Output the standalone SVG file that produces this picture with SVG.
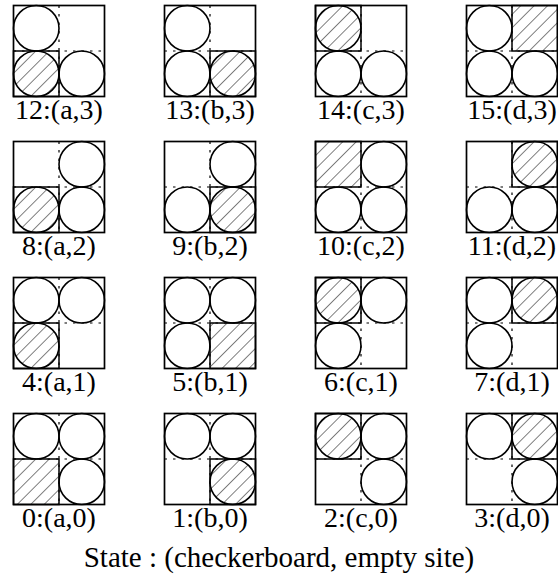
<svg xmlns="http://www.w3.org/2000/svg" xmlns:xlink="http://www.w3.org/1999/xlink" width="558" height="582" viewBox="0 0 558 582">
<defs>
<pattern id="hatch" patternUnits="userSpaceOnUse" width="9.5" height="9.5" patternTransform="rotate(45)">
<line x1="0" y1="0" x2="0" y2="9.5" stroke="#000" stroke-width="1"/>
</pattern>
<circle id="c" r="22.75" class="circ"/>
<path id="grid" d="M45.5,0 V91 M0,45.5 H91" class="dot"/>
</defs>
<style>
.box{fill:none;stroke:#000;stroke-width:1.7}
.sq{fill:none;stroke:#000;stroke-width:1.5}
.hsq{fill:url(#hatch);stroke:#000;stroke-width:1.5}
.circ{fill:none;stroke:#000;stroke-width:1.6}
.hc{fill:url(#hatch);stroke:#000;stroke-width:1.6}
.dot{fill:none;stroke:#000;stroke-width:1.2;stroke-dasharray:2.5 6}
.lbl{font-family:"Liberation Serif","Times New Roman",serif;font-size:28px;fill:#000;text-anchor:middle}
.cap{font-family:"Liberation Serif","Times New Roman",serif;font-size:29px;fill:#000;text-anchor:middle}
</style>

<!-- Row 3 (top) -->
<g id="s12" transform="translate(13.5,5.5)">
<use xlink:href="#grid"/>
<rect class="box" x="0" y="0" width="91" height="91"/>
<rect class="sq" x="0" y="45.5" width="45.5" height="45.5"/>
<use xlink:href="#c" x="22.75" y="22.75"/>
<circle class="hc" cx="22.75" cy="68.25" r="22.75"/>
<use xlink:href="#c" x="68.25" y="68.25"/>
<text class="lbl" x="45.5" y="113">12:(a,3)</text>
</g>
<g id="s13" transform="translate(164.5,5.5)">
<use xlink:href="#grid"/>
<rect class="box" x="0" y="0" width="91" height="91"/>
<rect class="sq" x="45.5" y="45.5" width="45.5" height="45.5"/>
<use xlink:href="#c" x="22.75" y="22.75"/>
<use xlink:href="#c" x="22.75" y="68.25"/>
<circle class="hc" cx="68.25" cy="68.25" r="22.75"/>
<text class="lbl" x="45.5" y="113">13:(b,3)</text>
</g>
<g id="s14" transform="translate(315.5,5.5)">
<use xlink:href="#grid"/>
<rect class="box" x="0" y="0" width="91" height="91"/>
<rect class="sq" x="0" y="0" width="45.5" height="45.5"/>
<circle class="hc" cx="22.75" cy="22.75" r="22.75"/>
<use xlink:href="#c" x="22.75" y="68.25"/>
<use xlink:href="#c" x="68.25" y="68.25"/>
<text class="lbl" x="45.5" y="113">14:(c,3)</text>
</g>
<g id="s15" transform="translate(466.5,5.5)">
<use xlink:href="#grid"/>
<rect class="box" x="0" y="0" width="91" height="91"/>
<rect class="hsq" x="45.5" y="0" width="45.5" height="45.5"/>
<use xlink:href="#c" x="22.75" y="22.75"/>
<use xlink:href="#c" x="22.75" y="68.25"/>
<use xlink:href="#c" x="68.25" y="68.25"/>
<text class="lbl" x="45.5" y="113">15:(d,3)</text>
</g>

<!-- Row 2 -->
<g id="s8" transform="translate(13.5,141.5)">
<use xlink:href="#grid"/>
<rect class="box" x="0" y="0" width="91" height="91"/>
<rect class="sq" x="0" y="45.5" width="45.5" height="45.5"/>
<use xlink:href="#c" x="68.25" y="22.75"/>
<circle class="hc" cx="22.75" cy="68.25" r="22.75"/>
<use xlink:href="#c" x="68.25" y="68.25"/>
<text class="lbl" x="45.5" y="113">8:(a,2)</text>
</g>
<g id="s9" transform="translate(164.5,141.5)">
<use xlink:href="#grid"/>
<rect class="box" x="0" y="0" width="91" height="91"/>
<rect class="sq" x="45.5" y="45.5" width="45.5" height="45.5"/>
<use xlink:href="#c" x="68.25" y="22.75"/>
<use xlink:href="#c" x="22.75" y="68.25"/>
<circle class="hc" cx="68.25" cy="68.25" r="22.75"/>
<text class="lbl" x="45.5" y="113">9:(b,2)</text>
</g>
<g id="s10" transform="translate(315.5,141.5)">
<use xlink:href="#grid"/>
<rect class="box" x="0" y="0" width="91" height="91"/>
<rect class="hsq" x="0" y="0" width="45.5" height="45.5"/>
<use xlink:href="#c" x="68.25" y="22.75"/>
<use xlink:href="#c" x="22.75" y="68.25"/>
<use xlink:href="#c" x="68.25" y="68.25"/>
<text class="lbl" x="45.5" y="113">10:(c,2)</text>
</g>
<g id="s11" transform="translate(466.5,141.5)">
<use xlink:href="#grid"/>
<rect class="box" x="0" y="0" width="91" height="91"/>
<rect class="sq" x="45.5" y="0" width="45.5" height="45.5"/>
<circle class="hc" cx="68.25" cy="22.75" r="22.75"/>
<use xlink:href="#c" x="22.75" y="68.25"/>
<use xlink:href="#c" x="68.25" y="68.25"/>
<text class="lbl" x="45.5" y="113">11:(d,2)</text>
</g>

<!-- Row 1 -->
<g id="s4" transform="translate(13.5,277.5)">
<use xlink:href="#grid"/>
<rect class="box" x="0" y="0" width="91" height="91"/>
<rect class="sq" x="0" y="45.5" width="45.5" height="45.5"/>
<use xlink:href="#c" x="22.75" y="22.75"/>
<use xlink:href="#c" x="68.25" y="22.75"/>
<circle class="hc" cx="22.75" cy="68.25" r="22.75"/>
<text class="lbl" x="45.5" y="113">4:(a,1)</text>
</g>
<g id="s5" transform="translate(164.5,277.5)">
<use xlink:href="#grid"/>
<rect class="box" x="0" y="0" width="91" height="91"/>
<rect class="hsq" x="45.5" y="45.5" width="45.5" height="45.5"/>
<use xlink:href="#c" x="22.75" y="22.75"/>
<use xlink:href="#c" x="68.25" y="22.75"/>
<use xlink:href="#c" x="22.75" y="68.25"/>
<text class="lbl" x="45.5" y="113">5:(b,1)</text>
</g>
<g id="s6" transform="translate(315.5,277.5)">
<use xlink:href="#grid"/>
<rect class="box" x="0" y="0" width="91" height="91"/>
<rect class="sq" x="0" y="0" width="45.5" height="45.5"/>
<circle class="hc" cx="22.75" cy="22.75" r="22.75"/>
<use xlink:href="#c" x="68.25" y="22.75"/>
<use xlink:href="#c" x="22.75" y="68.25"/>
<text class="lbl" x="45.5" y="113">6:(c,1)</text>
</g>
<g id="s7" transform="translate(466.5,277.5)">
<use xlink:href="#grid"/>
<rect class="box" x="0" y="0" width="91" height="91"/>
<rect class="sq" x="45.5" y="0" width="45.5" height="45.5"/>
<use xlink:href="#c" x="22.75" y="22.75"/>
<circle class="hc" cx="68.25" cy="22.75" r="22.75"/>
<use xlink:href="#c" x="22.75" y="68.25"/>
<text class="lbl" x="45.5" y="113">7:(d,1)</text>
</g>

<!-- Row 0 (bottom) -->
<g id="s0" transform="translate(13.5,413.5)">
<use xlink:href="#grid"/>
<rect class="box" x="0" y="0" width="91" height="91"/>
<rect class="hsq" x="0" y="45.5" width="45.5" height="45.5"/>
<use xlink:href="#c" x="22.75" y="22.75"/>
<use xlink:href="#c" x="68.25" y="22.75"/>
<use xlink:href="#c" x="68.25" y="68.25"/>
<text class="lbl" x="45.5" y="113">0:(a,0)</text>
</g>
<g id="s1" transform="translate(164.5,413.5)">
<use xlink:href="#grid"/>
<rect class="box" x="0" y="0" width="91" height="91"/>
<rect class="sq" x="45.5" y="45.5" width="45.5" height="45.5"/>
<use xlink:href="#c" x="22.75" y="22.75"/>
<use xlink:href="#c" x="68.25" y="22.75"/>
<circle class="hc" cx="68.25" cy="68.25" r="22.75"/>
<text class="lbl" x="45.5" y="113">1:(b,0)</text>
</g>
<g id="s2" transform="translate(315.5,413.5)">
<use xlink:href="#grid"/>
<rect class="box" x="0" y="0" width="91" height="91"/>
<rect class="sq" x="0" y="0" width="45.5" height="45.5"/>
<circle class="hc" cx="22.75" cy="22.75" r="22.75"/>
<use xlink:href="#c" x="68.25" y="22.75"/>
<use xlink:href="#c" x="68.25" y="68.25"/>
<text class="lbl" x="45.5" y="113">2:(c,0)</text>
</g>
<g id="s3" transform="translate(466.5,413.5)">
<use xlink:href="#grid"/>
<rect class="box" x="0" y="0" width="91" height="91"/>
<rect class="sq" x="45.5" y="0" width="45.5" height="45.5"/>
<use xlink:href="#c" x="22.75" y="22.75"/>
<circle class="hc" cx="68.25" cy="22.75" r="22.75"/>
<use xlink:href="#c" x="68.25" y="68.25"/>
<text class="lbl" x="45.5" y="113">3:(d,0)</text>
</g>

<g id="connectors"/>

<text id="caption" class="cap" x="279" y="567">State : (checkerboard, empty site)</text>
</svg>
